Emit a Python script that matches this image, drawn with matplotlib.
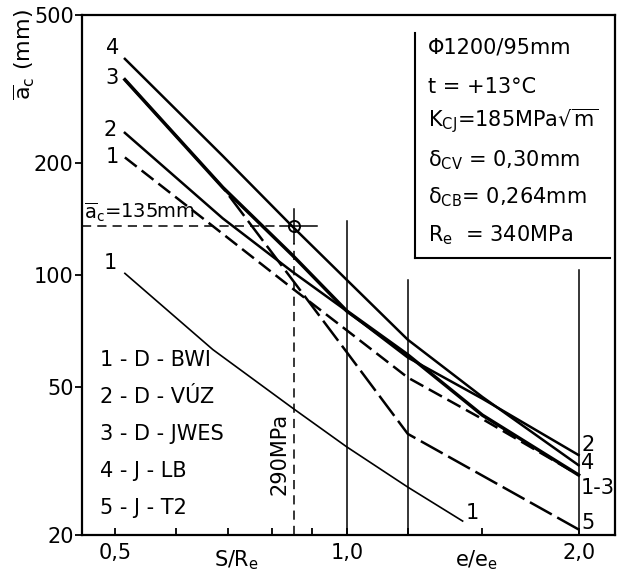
import numpy as np
import matplotlib.pyplot as plt
from matplotlib.ticker import FixedLocator, NullLocator, NullFormatter

plt.rcParams['font.family'] = 'DejaVu Sans'
plt.rcParams['mathtext.default'] = 'regular'

# S/Re positions of the read-off points
x_main = [0.515, 0.69, 0.85, 1.0, 1.2, 1.5, 2.0]
a_4 = [381, 209, 135, 97, 67, 47, 30.8]       # J - LB
a_3 = [335, 172, 113, 80, 61, 42, 29]         # D - JWES
a_2 = [241, 142, 102, 80, 60, 46.5, 32.8]     # D - VUZ
a_1 = [207, 129, 92, 71, 53, 41, 29]          # D - BWI (dashed)
x_5 = [0.515, 0.69, 0.85, 1.0, 1.2, 2.0]
a_5 = [335, 172, 97, 62, 37.4, 20.7]          # J - T2
x_1b = [0.515, 0.67, 0.85, 1.0, 1.2, 1.414]
a_1b = [101, 63, 43.9, 34.5, 26.9, 21.8]      # lower curve 1

s_crit = 290 / 340
a_crit = 135
x_grid = [1.0, 1.2, 2.0]
grid_top = [140, 97, 103]

legend_lines = ["1 - D - BWI", "2 - D - VÚZ", "3 - D - JWES", "4 - J - LB", "5 - J - T2"]
info_lines = ["Φ1200/95mm", "t = +13°C", "K$_{CJ}$=185MPa$\\sqrt{m}$",
              "δ$_{CV}$ = 0,30mm", "δ$_{CB}$= 0,264mm", "R$_e$  = 340MPa"]

fig = plt.figure(figsize=(6.23, 5.75), dpi=100)
ax = fig.add_axes([0.1316, 0.0696, 0.8555, 0.9044])
ax.set_xscale('log')
ax.set_yscale('log')
ax.set_xlim(0.453, 2.23)
ax.set_ylim(20, 500)

k = 'black'
ax.plot(x_main, a_4, color=k, lw=1.8)
ax.plot(x_main, a_3, color=k, lw=2.5)
ax.plot(x_main, a_2, color=k, lw=1.8)
ax.plot(x_main, a_1, color=k, lw=1.8, dashes=(6, 2.5))
ax.plot(x_5, a_5, color=k, lw=1.8, dashes=(10, 2.5))
ax.plot(x_1b, a_1b, color=k, lw=1.2)

# grid verticals
for xv, top in zip(x_grid, grid_top):
    ax.plot([xv, xv], [20, top], color=k, lw=1.1)

# critical point construction
ax.plot([0.453, 0.82], [a_crit, a_crit], color=k, lw=1.1, dashes=(6, 4))
ax.plot([s_crit, s_crit], [20, 122], color=k, lw=1.1, dashes=(6, 4))
ax.plot([0.82, 0.914], [a_crit, a_crit], color=k, lw=1.1)
ax.plot([s_crit, s_crit], [122, 150], color=k, lw=1.1)
ax.plot([s_crit], [a_crit], marker='o', ms=8, mfc='none', mec=k, mew=1.4)
ax.text(0.456, 137, "$\\overline{a}_c$=135mm", fontsize=14, ha='left', va='bottom')
ax.text(0.818, 33, "290MPa", fontsize=15, rotation=90, ha='center', va='center')

# curve labels
for xl, yl, s in [(0.497, 408, "4"), (0.496, 338, "3"), (0.493, 245, "2"),
                  (0.496, 207, "1"), (0.493, 108, "1")]:
    ax.text(xl, yl, s, fontsize=15, ha='center', va='center')
for yl, s in [(34.9, "2"), (31.2, "4"), (26.8, "1-3"), (21.6, "5")]:
    ax.text(2.015, yl, s, fontsize=15, ha='left', va='center')
ax.text(1.457, 22.9, "1", fontsize=15, ha='center', va='center')

# legend text
for i, s in enumerate(legend_lines):
    ax.text(0.478, 59 * 0.795 ** i, s, fontsize=15, ha='left', va='center')

# info box
ax.plot([1.225, 1.225], [111, 447], color=k, lw=1.5)
ax.plot([1.225, 2.196], [111, 111], color=k, lw=1.5)
for s, yl in zip(info_lines, [409, 320, 258, 204, 162, 128]):
    ax.text(1.275, yl, s, fontsize=15, ha='left', va='center')

# axes styling
for sp in ax.spines.values():
    sp.set_linewidth(1.6)
ax.yaxis.set_major_locator(FixedLocator([20, 50, 100, 200, 500]))
ax.yaxis.set_minor_locator(NullLocator())
ax.set_yticklabels(["20", "50", "100", "200", "500"])
ax.xaxis.set_major_locator(FixedLocator([0.5, 1.0, 2.0]))
ax.xaxis.set_minor_locator(FixedLocator([0.6, 0.7, 0.8, 0.9, 1.2, 1.5]))
ax.xaxis.set_minor_formatter(NullFormatter())
ax.set_xticklabels(["0,5", "1,0", "2,0"])
ax.tick_params(axis='y', direction='out', length=5, width=1.3, labelsize=15, pad=1)
ax.tick_params(axis='x', which='both', direction='in', length=5, width=1.3, labelsize=15, pad=6)
ax.text(0.72, -0.025, "S/R$_e$", fontsize=15, ha='center', va='top',
        transform=ax.get_xaxis_transform())
ax.text(1.475, -0.025, "e/e$_e$", fontsize=15, ha='center', va='top',
        transform=ax.get_xaxis_transform())
fig.text(0.04, 0.905, "$\\overline{a}_c$ (mm)", fontsize=16, rotation=90, ha='center', va='center')

fig.savefig("out.png", dpi=100)
